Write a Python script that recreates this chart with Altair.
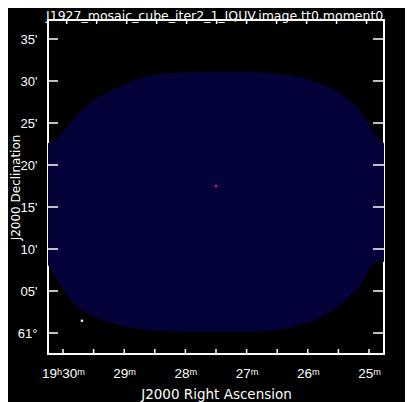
import json
import altair as alt
import pandas as pd

# ---- data (RA in minutes past 19h, Dec in arcmin past +61 deg) ----
ra_edge = [30.245, 30.163, 30.049, 29.967, 29.886, 29.722, 29.559, 29.395, 29.232,
           29.020, 28.742, 28.415, 27.925, 27.500, 26.944, 26.618, 26.291, 26.013,
           25.752, 25.474, 25.261, 25.196, 25.098, 25.033, 24.951, 24.902, 24.853,
           24.804, 24.755]
dec_top = [22.62, 22.62, 23.57, 24.17, 25.00, 26.31, 27.38, 28.21, 28.81,
           29.52, 30.36, 30.83, 31.07, 31.07, 31.07, 30.95, 30.71, 30.24,
           29.52, 28.57, 27.38, 26.90, 25.83, 25.12, 24.17, 23.57, 23.10,
           22.74, 22.62]
dec_bottom = [8.10, 7.02, 5.71, 4.76, 4.05, 2.86, 2.14, 1.67, 1.19,
              0.83, 0.48, 0.24, 0.12, 0.12, 0.12, 0.24, 0.60, 1.19,
              2.02, 3.33, 4.76, 5.24, 6.31, 7.14, 8.10, 8.45, 8.69,
              8.57, 8.45]

src_ra = [27.50, 29.69]
src_dec = [17.50, 1.46]
src_color = ["#ff1464", "#ffffff"]

dec_ticks = [0, 5, 10, 15, 20, 25, 30, 35]
dec_labels = ["61°", "05'", "10'", "15'", "20'", "25'", "30'", "35'"]
ra_ticks = [30, 29, 28, 27, 26, 25]
ra_labels = ["19ʰ30ᵐ", "29ᵐ", "28ᵐ", "27ᵐ", "26ᵐ", "25ᵐ"]
ra_minor = [30, 29.5, 29, 28.5, 28, 27.5, 27, 26.5, 26, 25.5, 25]

titles = ["J1927_mosaic_cube_iter2_1_IQUV.image.tt0.moment0"]

ra_domain = [24.755, 30.245]
dec_domain = [-2.5, 37.26]

TFONT = "DejaVu Sans"
LFONT = "Liberation Sans"
NAVY = "#03033a"
W, H = 336, 334


def label_expr(vals, labs):
    s = "''"
    for v, l in zip(vals, labs):
        s = f"datum.value == {v} ? {json.dumps(l)} : ({s})"
    return s


xs = alt.Scale(domain=ra_domain, reverse=True, nice=False, zero=False)
ys = alt.Scale(domain=dec_domain, nice=False, zero=False)

area_df = pd.DataFrame({"ra": ra_edge, "top": dec_top, "bottom": dec_bottom})
src_df = pd.DataFrame({"ra": src_ra, "dec": src_dec, "c": src_color})
dec_df = pd.DataFrame({"dec": dec_ticks})
ra_df = pd.DataFrame({"ra": ra_minor})
title_df = pd.DataFrame({"t": titles})

x_axis = alt.Axis(values=ra_ticks, labelExpr=label_expr(ra_ticks, ra_labels),
                  ticks=False, domain=False, grid=False, labelFlush=False,
                  labelOverlap=False, labelBound=False,
                  labelFont=LFONT, labelFontSize=13.5, labelColor="white",
                  labelPadding=12, labelBaseline="top",
                  title="J2000 Right Ascension", titleFont=TFONT, titleFontSize=13.5,
                  titleColor="white", titleFontWeight="normal",
                  titleY=44, titleBaseline="alphabetic")
y_axis = alt.Axis(values=dec_ticks, labelExpr=label_expr(dec_ticks, dec_labels),
                  ticks=False, domain=False, grid=False, labelFlush=False,
                  labelOverlap=False, labelBound=False,
                  labelFont=LFONT, labelFontSize=13, labelColor="white",
                  labelPadding=11, labelOffset=1,
                  title="J2000 Declination", titleFont=TFONT, titleFontSize=12,
                  titleColor="white", titleFontWeight="normal",
                  titleX=-28.7, titleBaseline="alphabetic")

area = alt.Chart(area_df).mark_area(color=NAVY, clip=True).encode(
    x=alt.X("ra:Q", scale=xs, axis=x_axis),
    y=alt.Y("top:Q", scale=ys, axis=y_axis),
    y2="bottom:Q",
)

srcs = alt.Chart(src_df).mark_square(size=5, opacity=1).encode(
    x=alt.X("ra:Q", scale=xs, axis=x_axis),
    y=alt.Y("dec:Q", scale=ys, axis=y_axis),
    color=alt.Color("c:N", scale=None),
)

tick_style = dict(color="white", strokeWidth=1.5)
left_ticks = alt.Chart(dec_df).mark_rule(**tick_style).encode(
    y=alt.Y("dec:Q", scale=ys, axis=y_axis), x=alt.value(0), x2=alt.value(10))
right_ticks = alt.Chart(dec_df).mark_rule(**tick_style).encode(
    y=alt.Y("dec:Q", scale=ys, axis=y_axis), x=alt.value(W), x2=alt.value(W - 11))
bottom_ticks = alt.Chart(ra_df).mark_rule(**tick_style).encode(
    x=alt.X("ra:Q", scale=xs, axis=x_axis), y=alt.value(H), y2=alt.value(H - 5))
top_ticks = alt.Chart(ra_df).transform_calculate(
    ra_top="27 + (datum.ra - 27) * 0.98"
).mark_rule(**tick_style).encode(
    x=alt.X("ra_top:Q", scale=xs, axis=x_axis), y=alt.value(0), y2=alt.value(4))

title_text = alt.Chart(title_df).mark_text(
    align="left", baseline="alphabetic", font=TFONT, fontSize=12.5, color="white"
).encode(text="t:N", x=alt.value(-2), y=alt.value(-0.3))

chart = alt.layer(area, srcs, left_ticks, right_ticks, bottom_ticks, top_ticks,
                  title_text).properties(
    width=W, height=H,
    autosize="none",
    padding={"left": 40, "top": 12, "right": 21, "bottom": 48},
).configure(background="#000000").configure_view(
    stroke="white", strokeWidth=2, fill="#000000"
)

chart.save("out.html", embed_options={"renderer": "svg", "actions": False})
